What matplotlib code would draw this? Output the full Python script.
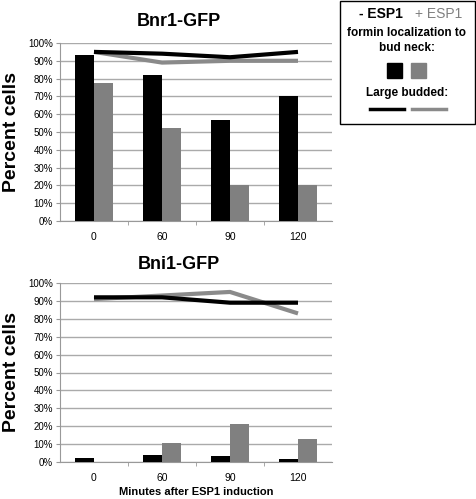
import matplotlib
matplotlib.use("Agg")
import matplotlib.pyplot as plt
import numpy as np
from matplotlib.patches import Rectangle
from matplotlib.lines import Line2D

plt.rcParams['font.family'] = ['Liberation Sans', 'DejaVu Sans']

categories = ["0", "60", "90", "120"]
yticklabels = ["0%", "10%", "20%", "30%", "40%", "50%", "60%", "70%", "80%", "90%", "100%"]

bnr1_minus_bars = [93, 82, 57, 70]
bnr1_plus_bars = [77.5, 52, 20, 20]
bnr1_minus_line = [95, 94, 92, 95]
bnr1_plus_line = [95, 89, 90, 90]

bni1_minus_bars = [2.5, 4, 3.5, 1.5]
bni1_plus_bars = [0, 10.5, 21, 13]
bni1_minus_line = [92, 92, 89, 89]
bni1_plus_line = [91, 93, 95, 83]

W, H = 477, 499
fig = plt.figure(figsize=(W / 100, H / 100), dpi=100)

def px_axes(x0, y0, x1, y1):
    return fig.add_axes([x0 / W, 1 - y1 / H, (x1 - x0) / W, (y1 - y0) / H])

BLACK = "#000000"
GRAY = "#808080"

def draw(ax, mb, pb, ml, pl, title, pad):
    x = np.arange(len(categories))
    bw = 0.28
    ax.bar(x - bw / 2, mb, bw, color=BLACK, zorder=3)
    ax.bar(x + bw / 2, pb, bw, color=GRAY, zorder=3)
    ax.plot(x, pl, color="#8a8a8a", lw=3, zorder=4, solid_capstyle='butt')
    ax.plot(x, ml, color=BLACK, lw=3, zorder=5, solid_capstyle='butt')
    ax.set_xlim(-0.5, 3.5)
    ax.set_ylim(0, 100)
    ax.set_yticks(np.arange(0, 101, 10))
    ax.set_yticklabels(yticklabels, fontsize=7)
    ax.set_xticks(x)
    ax.set_xticklabels(categories, fontsize=7.5)
    ax.set_xticks([0.5, 1.5, 2.5], minor=True)
    ax.tick_params(axis='x', which='major', length=0, pad=8)
    ax.tick_params(axis='x', which='minor', length=3, color="#999999")
    ax.tick_params(axis='y', length=3, color="#999999", pad=2)
    ax.grid(axis='y', color="#aaaaaa", lw=1, zorder=0)
    for s in ['top', 'right']:
        ax.spines[s].set_visible(False)
    for s in ['left', 'bottom']:
        ax.spines[s].set_color("#999999")
    ax.set_ylabel("Percent cells", fontsize=14, fontweight='bold', labelpad=6)
    ax.set_title(title, fontsize=13, fontweight='bold', pad=pad, x=0.4375)

ax1 = px_axes(60, 43, 332, 221)
draw(ax1, bnr1_minus_bars, bnr1_plus_bars, bnr1_minus_line, bnr1_plus_line, "Bnr1-GFP", 12)
ax2 = px_axes(60, 283, 332, 462)
draw(ax2, bni1_minus_bars, bni1_plus_bars, bni1_minus_line, bni1_plus_line, "Bni1-GFP", 10)
ax2.set_xlabel("Minutes after ESP1 induction", fontsize=8, fontweight='bold', labelpad=3)

# Legend box (figure pixel coords)
lg = fig.add_axes([0, 0, 1, 1], facecolor='none')
lg.set_xlim(0, W)
lg.set_ylim(H, 0)
lg.axis('off')
lg.add_patch(Rectangle((340, 1), 135, 123, fill=False, edgecolor="#000000", lw=1))
lg.text(403, 14, "- ESP1", fontsize=10, fontweight='bold', color=BLACK, ha='right', va='center')
lg.text(415, 14, "+ ESP1", fontsize=10, color=GRAY, ha='left', va='center')
lg.text(407, 33, "formin localization to", fontsize=8.5, fontweight='bold', ha='center', va='center')
lg.text(407, 48, "bud neck:", fontsize=8.5, fontweight='bold', ha='center', va='center')
lg.add_patch(Rectangle((387, 63), 15, 15, color=BLACK))
lg.add_patch(Rectangle((411, 63), 15, 15, color=GRAY))
lg.text(407, 93, "Large budded:", fontsize=8.5, fontweight='bold', ha='center', va='center')
lg.add_line(Line2D([370, 404], [109, 109], color=BLACK, lw=2.5))
lg.add_line(Line2D([412, 446], [109, 109], color="#8a8a8a", lw=2.5))

fig.savefig("out.png", dpi=100)
